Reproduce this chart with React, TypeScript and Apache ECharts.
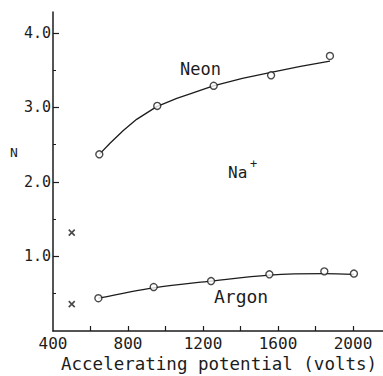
import React, { useEffect, useRef } from "react";
import * as echarts from "echarts";

const neonPoints: [number, number][] = [
  [647, 2.37], [956, 3.02], [1257, 3.29], [1563, 3.43], [1877, 3.69],
];
const neonCurve: [number, number][] = [
  [647, 2.37], [704, 2.52], [775, 2.69], [846, 2.84], [953, 3.01], [1060, 3.12], [1131, 3.18],
  [1255, 3.29], [1410, 3.39], [1563, 3.47], [1720, 3.55], [1877, 3.62],
];
const argonPoints: [number, number][] = [
  [642, 0.44], [937, 0.59], [1243, 0.67], [1554, 0.76], [1847, 0.8], [2005, 0.77],
];
const argonCurve: [number, number][] = [
  [642, 0.44], [937, 0.58], [1243, 0.67], [1554, 0.75], [1847, 0.77], [2005, 0.76],
];
const crossPoints: [number, number][] = [
  [500, 1.32], [500, 0.36],
];
const xLabelValues = [400, 800, 1200, 1600, 2000];
const xTickValues = [600, 800, 1000, 1200, 1400, 1600, 1800, 2000];
const yTickValues = [1, 2, 3, 4];

const INK = "#1c1c1c";
const FONT = "DejaVu Sans Mono";

export default function App() {
  const ref = useRef<HTMLDivElement>(null);
  useEffect(() => {
    if (!ref.current) return;
    const chart = echarts.init(ref.current, null, { renderer: "svg" });
    chart.setOption({
      animation: false,
      backgroundColor: "#ffffff",
      grid: { left: 53, right: 0, top: 12, bottom: 45 },
      xAxis: {
        type: "value",
        min: 400,
        max: 2160,
        interval: 200,
        splitLine: { show: false },
        axisLine: { show: true, lineStyle: { color: INK, width: 1.5 } },
        axisTick: { show: true, inside: true, length: 5, customValues: xTickValues, lineStyle: { color: INK, width: 1.2 } },
        axisLabel: {
          customValues: xLabelValues,
          color: INK,
          fontFamily: FONT,
          fontSize: 16,
          margin: 4,
          formatter: (v: number) => String(v),
        },
      },
      yAxis: {
        type: "value",
        min: 0,
        max: 4.28,
        interval: 1,
        splitLine: { show: false },
        axisLine: { show: true, lineStyle: { color: INK, width: 1.5 } },
        axisTick: { show: true, inside: true, length: 6, customValues: yTickValues, lineStyle: { color: INK, width: 1.2 } },
        minorTick: { show: true, splitNumber: 2, length: 3, lineStyle: { color: INK, width: 1 } },
        minorSplitLine: { show: false },
        axisLabel: {
          customValues: yTickValues,
          color: INK,
          fontFamily: FONT,
          fontSize: 15,
          margin: 2,
          formatter: (v: number) => v.toFixed(1),
        },
      },
      series: [
        {
          type: "line",
          data: neonCurve,
          smooth: false,
          showSymbol: false,
          lineStyle: { color: INK, width: 1.3, join: "round" },
          z: 2,
        },
        {
          type: "line",
          data: argonCurve,
          smooth: 0.35,
          showSymbol: false,
          lineStyle: { color: INK, width: 1.3 },
          z: 2,
        },
        {
          type: "scatter",
          data: neonPoints,
          symbol: "circle",
          symbolSize: 7,
          itemStyle: { color: "#ffffff", borderColor: INK, borderWidth: 1.4 },
          z: 3,
        },
        {
          type: "scatter",
          data: argonPoints,
          symbol: "circle",
          symbolSize: 7,
          itemStyle: { color: "#ffffff", borderColor: INK, borderWidth: 1.4 },
          z: 3,
        },
        {
          type: "scatter",
          data: crossPoints,
          symbol: "path://M0,0L10,10M10,0L0,10",
          symbolSize: 6,
          itemStyle: { color: "transparent", borderColor: INK, borderWidth: 1.6 },
          z: 3,
        },
      ],
      graphic: [
        { type: "text", left: 180, top: 60, style: { text: "Neon", font: `17px "${FONT}"`, fill: INK } },
        { type: "text", left: 228, top: 164, style: { text: "Na", font: `16px "${FONT}"`, fill: INK } },
        { type: "text", left: 250, top: 158, style: { text: "+", font: `12px "${FONT}"`, fill: INK } },
        { type: "text", left: 214, top: 287, style: { text: "Argon", font: `18px "${FONT}"`, fill: INK } },
        { type: "text", left: 10, top: 146, style: { text: "N", font: `13px "${FONT}"`, fill: INK } },
        {
          type: "text",
          left: 61,
          top: 355,
          style: { text: "Accelerating potential (volts)", font: `17.5px "${FONT}"`, fill: INK },
        },
      ],
    });
    return () => chart.dispose();
  }, []);
  return <div ref={ref} style={{ width: 383, height: 376, position: "absolute", left: 0, top: 0 }} />;
}
